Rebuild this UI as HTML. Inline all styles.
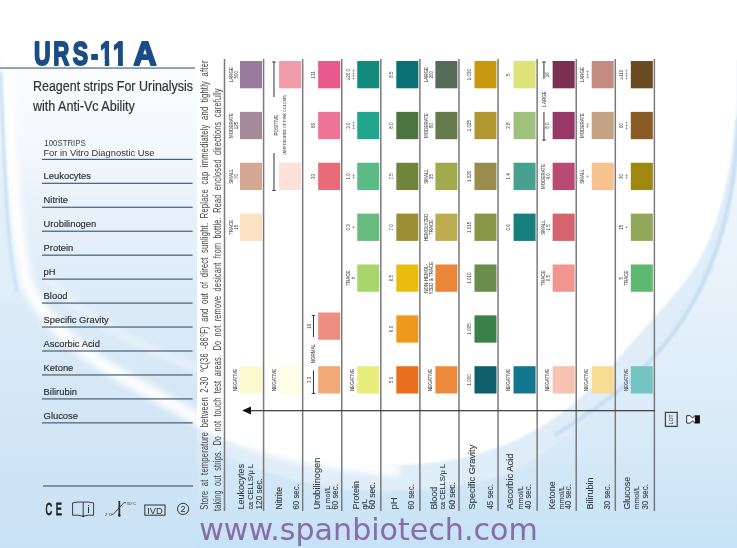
<!DOCTYPE html><html><head><meta charset="utf-8"><title>URS-11 A</title><style>
html,body{margin:0;padding:0;background:#fff;}svg{display:block;}
text{font-family:"Liberation Sans",Arial,sans-serif;}
.www{font-family:"DejaVu Sans",sans-serif;}
</style></head><body>
<svg width="737" height="548" viewBox="0 0 737 548">
<defs>
<filter id="b3" x="-20%" y="-20%" width="140%" height="140%"><feGaussianBlur stdDeviation="3"/></filter>
<filter id="b6" x="-20%" y="-20%" width="140%" height="140%"><feGaussianBlur stdDeviation="6"/></filter>
<filter id="b1" x="-20%" y="-20%" width="140%" height="140%"><feGaussianBlur stdDeviation="1.2"/></filter>
<linearGradient id="lp" x1="0" y1="0" x2="0.3" y2="1"><stop offset="0" stop-color="#e6f0f9"/><stop offset="1" stop-color="#c9e1f3"/></linearGradient>
<linearGradient id="bb" x1="0" y1="0" x2="0" y2="1"><stop offset="0" stop-color="#f3f8fd"/><stop offset="0.3" stop-color="#eff6fc"/><stop offset="0.55" stop-color="#e6f1fa"/><stop offset="0.8" stop-color="#d8eaf7"/><stop offset="1" stop-color="#c6e2f6"/></linearGradient>
<linearGradient id="lpt" x1="0" y1="0" x2="0" y2="1"><stop offset="0" stop-color="#e6f0f9" stop-opacity="0"/><stop offset="0.3" stop-color="#e6f0f9" stop-opacity="0.65"/><stop offset="1" stop-color="#e0edf8" stop-opacity="0.3"/></linearGradient>
<linearGradient id="lpg" x1="0" y1="0" x2="0" y2="1"><stop offset="0" stop-color="#fbfdfe"/><stop offset="0.169" stop-color="#f3f8fc"/><stop offset="0.273" stop-color="#e9f2fa"/><stop offset="0.482" stop-color="#dcebf7"/><stop offset="0.691" stop-color="#d4e7f6"/><stop offset="1" stop-color="#c9e2f5"/></linearGradient>
</defs>
<rect width="737" height="548" fill="url(#bb)"/>
<path d="M0,0 H737 V120 C734,250 690,340 600,405 C575,428 545,458 505,475 C470,486 420,492 370,491 C310,489 250,470 200,443 C150,415 100,378 60,338 C35,310 18,285 10,230 C5,180 2,130 0,90 Z" fill="#dfedf8" filter="url(#b1)"/>
<path d="M0,0 H737 V100 C733,170 718,235 692,272 C672,300 642,330 618,359 C598,382 570,410 539,428 C512,444 478,457 430,463 C380,468 320,463 270,452 C220,440 180,420 140,392 C100,365 60,330 30,285 C18,260 12,220 8,170 C5,130 2,100 0,70 Z" fill="#ffffff" filter="url(#b1)"/>
<rect x="0" y="0" width="737" height="60" fill="#fff"/>
<rect x="0" y="69" width="197" height="479" fill="url(#lpg)"/>
<path d="M0,69 L3,69 C6,150 10,220 18,262 C24,290 14,300 0,300 Z" fill="#e0eef9" filter="url(#b3)"/>
<path d="M7,72 C10,160 15,235 27,284 C44,322 80,352 122,376 C160,398 195,418 235,437 C285,456 335,466 400,470" fill="none" stroke="#ffffff" stroke-width="13" opacity="0.9" filter="url(#b3)"/>
<path d="M45,275 C80,318 130,342 197,368 C215,375 225,380 235,385" fill="none" stroke="#ffffff" stroke-width="7" opacity="0.45" filter="url(#b3)"/>
<path d="M0.5,72 C3,140 5.5,195 8.5,230 C10.5,255 13,272 17,292" fill="none" stroke="#cbe2f4" stroke-width="3.5" filter="url(#b1)"/>
<path d="M738.5,118 C734,250 690,340 600,405 C585,416 570,426 555,435" fill="none" stroke="#c4def2" stroke-width="4" filter="url(#b1)"/>
<defs><clipPath id="c1" clipPathUnits="userSpaceOnUse"><path d="M6.8,2 H13.1 V-25 H0.5 V-5.6 H6.8 Z"/></clipPath></defs>
<g fill="#1b4d85" stroke="#1b4d85" stroke-width="2.0" stroke-linejoin="round" font-weight="bold" font-size="32.8">
<text transform="translate(34.12,64.5) scale(0.700,1)">U</text>
<text transform="translate(53.19,64.5) scale(0.679,1)">R</text>
<text transform="translate(72.84,64.5) scale(0.702,1)">S</text>
<text transform="translate(91.11,65.9) scale(0.658,1)">-</text>
<text transform="translate(100.02,64.5) scale(0.705,1)" clip-path="url(#c1)">1</text>
<text transform="translate(112.96,64.5) scale(0.755,1)" clip-path="url(#c1)">1</text>
<text transform="translate(133.58,64.5) scale(0.971,1)">A</text>
</g>
<rect x="0" y="67.4" width="195" height="1.3" fill="#55728c"/>
<text x="33" y="91" font-size="14" fill="#333" stroke="#333" stroke-width="0.2" textLength="160" lengthAdjust="spacingAndGlyphs">Reagent strips For Urinalysis</text>
<text x="33" y="111.4" font-size="14" fill="#333" stroke="#333" stroke-width="0.2" textLength="101.8" lengthAdjust="spacingAndGlyphs">with Anti-Vc Ability</text>
<text x="44.3" y="146.1" font-size="9.6" fill="#444" textLength="41.5" lengthAdjust="spacingAndGlyphs">100STRIPS</text>
<text x="43.4" y="155.8" font-size="9.6" fill="#333" textLength="111" lengthAdjust="spacingAndGlyphs">For in Vitro Diagnostic Use</text>
<rect x="42" y="158.8" width="150.6" height="1.2" fill="#4d5e6e"/>
<text x="43.6" y="179.2" font-size="9.4" fill="#2c3036" stroke="#2c3036" stroke-width="0.15">Leukocytes</text>
<rect x="42" y="182.70" width="150.6" height="1.3" fill="#56677a"/>
<text x="43.6" y="203.2" font-size="9.4" fill="#2c3036" stroke="#2c3036" stroke-width="0.15">Nitrite</text>
<rect x="42" y="206.65" width="150.6" height="1.3" fill="#56677a"/>
<text x="43.6" y="227.2" font-size="9.4" fill="#2c3036" stroke="#2c3036" stroke-width="0.15">Urobilinogen</text>
<rect x="42" y="230.60" width="150.6" height="1.3" fill="#56677a"/>
<text x="43.6" y="251.1" font-size="9.4" fill="#2c3036" stroke="#2c3036" stroke-width="0.15">Protein</text>
<rect x="42" y="254.55" width="150.6" height="1.3" fill="#56677a"/>
<text x="43.6" y="275.0" font-size="9.4" fill="#2c3036" stroke="#2c3036" stroke-width="0.15">pH</text>
<rect x="42" y="278.50" width="150.6" height="1.3" fill="#56677a"/>
<text x="43.6" y="299.0" font-size="9.4" fill="#2c3036" stroke="#2c3036" stroke-width="0.15">Blood</text>
<rect x="42" y="302.45" width="150.6" height="1.3" fill="#56677a"/>
<text x="43.6" y="322.9" font-size="9.4" fill="#2c3036" stroke="#2c3036" stroke-width="0.15">Specific Gravity</text>
<rect x="42" y="326.40" width="150.6" height="1.3" fill="#56677a"/>
<text x="43.6" y="346.9" font-size="9.4" fill="#2c3036" stroke="#2c3036" stroke-width="0.15">Ascorbic Acid</text>
<rect x="42" y="350.35" width="150.6" height="1.3" fill="#56677a"/>
<text x="43.6" y="370.8" font-size="9.4" fill="#2c3036" stroke="#2c3036" stroke-width="0.15">Ketone</text>
<rect x="42" y="374.30" width="150.6" height="1.3" fill="#56677a"/>
<text x="43.6" y="394.8" font-size="9.4" fill="#2c3036" stroke="#2c3036" stroke-width="0.15">Bilirubin</text>
<rect x="42" y="398.25" width="150.6" height="1.3" fill="#56677a"/>
<text x="43.6" y="418.8" font-size="9.4" fill="#2c3036" stroke="#2c3036" stroke-width="0.15">Glucose</text>
<rect x="42" y="422.20" width="150.6" height="1.3" fill="#56677a"/>
<rect x="43" y="485.4" width="150" height="1.2" fill="#4d5e6e"/>
<text transform="translate(207.8,509.8) rotate(-90)" font-size="10.5" fill="#464646" word-spacing="3" letter-spacing="0.3" textLength="449.6" lengthAdjust="spacingAndGlyphs">Store at temperature between 2-30 ℃(36 -86°F) and out of direct sunlight. Replace cap immediately and tightly after</text>
<text transform="translate(220.6,511) rotate(-90)" font-size="10.5" fill="#464646" word-spacing="3" letter-spacing="0.3" textLength="422.7" lengthAdjust="spacingAndGlyphs">taking out strips. Do not touch test areas. Do not remove desicant from bottle. Read enclosed directions carefully</text>
<rect x="223.75" y="59" width="1.5" height="452" fill="#7a7a7a"/>
<rect x="262.83" y="59" width="1.5" height="452" fill="#7a7a7a"/>
<rect x="301.91" y="59" width="1.5" height="452" fill="#7a7a7a"/>
<rect x="340.99" y="59" width="1.5" height="452" fill="#7a7a7a"/>
<rect x="380.07" y="59" width="1.5" height="452" fill="#7a7a7a"/>
<rect x="419.15" y="59" width="1.5" height="452" fill="#7a7a7a"/>
<rect x="458.23" y="59" width="1.5" height="452" fill="#7a7a7a"/>
<rect x="497.31" y="59" width="1.5" height="452" fill="#7a7a7a"/>
<rect x="536.39" y="59" width="1.5" height="452" fill="#7a7a7a"/>
<rect x="575.47" y="59" width="1.5" height="452" fill="#7a7a7a"/>
<rect x="614.55" y="59" width="1.5" height="452" fill="#7a7a7a"/>
<rect x="653.63" y="59" width="1.5" height="452" fill="#7a7a7a"/>
<rect x="244" y="410" width="411" height="1.3" fill="#444"/>
<path d="M242.2,410.6 L251,406.6 L251,414.6 Z" fill="#111"/>
<rect x="240.00" y="61.0" width="22" height="27.3" fill="#9a7a9d"/>
<text transform="translate(232.60,74.65) rotate(-90)" font-size="4.5" fill="#333" text-anchor="middle">LARGE</text>
<text transform="translate(237.50,74.65) rotate(-90)" font-size="4.5" fill="#333" text-anchor="middle">500</text>
<rect x="240.00" y="111.87" width="22" height="27.3" fill="#a68a9a"/>
<text transform="translate(232.60,125.52) rotate(-90)" font-size="4.5" fill="#333" text-anchor="middle">MODERATE</text>
<text transform="translate(237.50,125.52) rotate(-90)" font-size="4.5" fill="#333" text-anchor="middle">125</text>
<rect x="240.00" y="162.74" width="22" height="27.3" fill="#d5a894"/>
<text transform="translate(232.60,176.39) rotate(-90)" font-size="4.5" fill="#333" text-anchor="middle">SMALL</text>
<text transform="translate(237.50,176.39) rotate(-90)" font-size="4.5" fill="#333" text-anchor="middle">70</text>
<rect x="240.00" y="213.61" width="22" height="27.3" fill="#fce1c3"/>
<text transform="translate(232.60,227.26) rotate(-90)" font-size="4.5" fill="#333" text-anchor="middle">TRACE</text>
<text transform="translate(237.50,227.26) rotate(-90)" font-size="4.5" fill="#333" text-anchor="middle">15</text>
<rect x="240.00" y="366.22" width="22" height="27.3" fill="#fdf9cf"/>
<text transform="translate(236.70,379.87) rotate(-90)" font-size="4.5" fill="#333" text-anchor="middle">NEGATIVE</text>
<rect x="279.08" y="61.0" width="22" height="27.3" fill="#f29bab"/>
<rect x="279.08" y="162.74" width="22" height="27.3" fill="#fbe1d8"/>
<rect x="279.08" y="366.22" width="22" height="27.3" fill="#fefde6"/>
<text transform="translate(275.78,379.87) rotate(-90)" font-size="4.5" fill="#333" text-anchor="middle">NEGATIVE</text>
<rect x="318.16" y="61.0" width="22" height="27.3" fill="#e65b8b"/>
<text transform="translate(314.86,74.65) rotate(-90)" font-size="4.5" fill="#333" text-anchor="middle">131</text>
<rect x="318.16" y="111.87" width="22" height="27.3" fill="#ec7596"/>
<text transform="translate(314.86,125.52) rotate(-90)" font-size="4.5" fill="#333" text-anchor="middle">66</text>
<rect x="318.16" y="162.74" width="22" height="27.3" fill="#e96b78"/>
<text transform="translate(314.86,176.39) rotate(-90)" font-size="4.5" fill="#333" text-anchor="middle">33</text>
<rect x="318.16" y="312.5" width="22" height="27.3" fill="#ee8e80"/>
<text transform="translate(311.06,326.15) rotate(-90)" font-size="4.5" fill="#333" text-anchor="middle">16</text>
<rect x="318.16" y="366.22" width="22" height="27.3" fill="#f2a97a"/>
<text transform="translate(311.06,379.87) rotate(-90)" font-size="4.5" fill="#333" text-anchor="middle">3.3</text>
<rect x="357.24" y="61.0" width="22" height="27.3" fill="#138a7c"/>
<text transform="translate(349.84,74.65) rotate(-90)" font-size="4.5" fill="#333" text-anchor="middle">≥20.0</text>
<text transform="translate(354.74,74.65) rotate(-90)" font-size="4.5" fill="#333" text-anchor="middle">++++</text>
<rect x="357.24" y="111.87" width="22" height="27.3" fill="#1fa68c"/>
<text transform="translate(349.84,125.52) rotate(-90)" font-size="4.5" fill="#333" text-anchor="middle">3.0</text>
<text transform="translate(354.74,125.52) rotate(-90)" font-size="4.5" fill="#333" text-anchor="middle">+++</text>
<rect x="357.24" y="162.74" width="22" height="27.3" fill="#5bbb84"/>
<text transform="translate(349.84,176.39) rotate(-90)" font-size="4.5" fill="#333" text-anchor="middle">1.0</text>
<text transform="translate(354.74,176.39) rotate(-90)" font-size="4.5" fill="#333" text-anchor="middle">++</text>
<rect x="357.24" y="213.61" width="22" height="27.3" fill="#68bb7e"/>
<text transform="translate(349.84,227.26) rotate(-90)" font-size="4.5" fill="#333" text-anchor="middle">0.3</text>
<text transform="translate(354.74,227.26) rotate(-90)" font-size="4.5" fill="#333" text-anchor="middle">+</text>
<rect x="357.24" y="264.48" width="22" height="27.3" fill="#a9d66c"/>
<text transform="translate(349.84,278.13) rotate(-90)" font-size="4.5" fill="#333" text-anchor="middle">TRACE</text>
<text transform="translate(354.74,278.13) rotate(-90)" font-size="4.5" fill="#333" text-anchor="middle">±</text>
<rect x="357.24" y="366.22" width="22" height="27.3" fill="#e7ee7c"/>
<text transform="translate(353.94,379.87) rotate(-90)" font-size="4.5" fill="#333" text-anchor="middle">NEGATIVE</text>
<rect x="396.32" y="61.0" width="22" height="27.3" fill="#0b6f74"/>
<text transform="translate(393.02,74.65) rotate(-90)" font-size="4.5" fill="#333" text-anchor="middle">8.5</text>
<rect x="396.32" y="111.87" width="22" height="27.3" fill="#4b743e"/>
<text transform="translate(393.02,125.52) rotate(-90)" font-size="4.5" fill="#333" text-anchor="middle">8.0</text>
<rect x="396.32" y="162.74" width="22" height="27.3" fill="#6f863a"/>
<text transform="translate(393.02,176.39) rotate(-90)" font-size="4.5" fill="#333" text-anchor="middle">7.5</text>
<rect x="396.32" y="213.61" width="22" height="27.3" fill="#9a8f35"/>
<text transform="translate(393.02,227.26) rotate(-90)" font-size="4.5" fill="#333" text-anchor="middle">7.0</text>
<rect x="396.32" y="264.48" width="22" height="27.3" fill="#e9bd10"/>
<text transform="translate(393.02,278.13) rotate(-90)" font-size="4.5" fill="#333" text-anchor="middle">6.5</text>
<rect x="396.32" y="315.35" width="22" height="27.3" fill="#ee981c"/>
<text transform="translate(393.02,329.00) rotate(-90)" font-size="4.5" fill="#333" text-anchor="middle">6.0</text>
<rect x="396.32" y="366.22" width="22" height="27.3" fill="#e8701c"/>
<text transform="translate(393.02,379.87) rotate(-90)" font-size="4.5" fill="#333" text-anchor="middle">5.0</text>
<rect x="435.40" y="61.0" width="22" height="27.3" fill="#566a58"/>
<text transform="translate(428.00,74.65) rotate(-90)" font-size="4.5" fill="#333" text-anchor="middle">LARGE</text>
<text transform="translate(432.90,74.65) rotate(-90)" font-size="4.5" fill="#333" text-anchor="middle">200</text>
<rect x="435.40" y="111.87" width="22" height="27.3" fill="#647a4a"/>
<text transform="translate(428.00,125.52) rotate(-90)" font-size="4.5" fill="#333" text-anchor="middle">MODERATE</text>
<text transform="translate(432.90,125.52) rotate(-90)" font-size="4.5" fill="#333" text-anchor="middle">80</text>
<rect x="435.40" y="162.74" width="22" height="27.3" fill="#a2aa4e"/>
<text transform="translate(428.00,176.39) rotate(-90)" font-size="4.5" fill="#333" text-anchor="middle">SMALL</text>
<text transform="translate(432.90,176.39) rotate(-90)" font-size="4.5" fill="#333" text-anchor="middle">25</text>
<rect x="435.40" y="213.61" width="22" height="27.3" fill="#bcac52"/>
<text transform="translate(428.00,227.26) rotate(-90)" font-size="4.5" fill="#333" text-anchor="middle">HEMOLYZED</text>
<text transform="translate(432.90,227.26) rotate(-90)" font-size="4.5" fill="#333" text-anchor="middle">TRACE</text>
<rect x="435.40" y="264.48" width="22" height="27.3" fill="#ea8638"/>
<text transform="translate(428.00,278.13) rotate(-90)" font-size="4.5" fill="#333" text-anchor="middle">NON-HEMOL-</text>
<text transform="translate(432.90,278.13) rotate(-90)" font-size="4.5" fill="#333" text-anchor="middle">YZED &amp; TRACE</text>
<rect x="435.40" y="366.22" width="22" height="27.3" fill="#ee8a3c"/>
<text transform="translate(432.10,379.87) rotate(-90)" font-size="4.5" fill="#333" text-anchor="middle">NEGATIVE</text>
<rect x="474.48" y="61.0" width="22" height="27.3" fill="#c89810"/>
<text transform="translate(471.18,74.65) rotate(-90)" font-size="4.5" fill="#333" text-anchor="middle">1.030</text>
<rect x="474.48" y="111.87" width="22" height="27.3" fill="#b19730"/>
<text transform="translate(471.18,125.52) rotate(-90)" font-size="4.5" fill="#333" text-anchor="middle">1.025</text>
<rect x="474.48" y="162.74" width="22" height="27.3" fill="#9a8c4c"/>
<text transform="translate(471.18,176.39) rotate(-90)" font-size="4.5" fill="#333" text-anchor="middle">1.020</text>
<rect x="474.48" y="213.61" width="22" height="27.3" fill="#88964a"/>
<text transform="translate(471.18,227.26) rotate(-90)" font-size="4.5" fill="#333" text-anchor="middle">1.015</text>
<rect x="474.48" y="264.48" width="22" height="27.3" fill="#6a8c4c"/>
<text transform="translate(471.18,278.13) rotate(-90)" font-size="4.5" fill="#333" text-anchor="middle">1.010</text>
<rect x="474.48" y="315.35" width="22" height="27.3" fill="#3b8048"/>
<text transform="translate(471.18,329.00) rotate(-90)" font-size="4.5" fill="#333" text-anchor="middle">1.005</text>
<rect x="474.48" y="366.22" width="22" height="27.3" fill="#0f5f6c"/>
<text transform="translate(471.18,379.87) rotate(-90)" font-size="4.5" fill="#333" text-anchor="middle">1.000</text>
<rect x="513.56" y="61.0" width="22" height="27.3" fill="#dde27a"/>
<text transform="translate(510.26,74.65) rotate(-90)" font-size="4.5" fill="#333" text-anchor="middle">5</text>
<rect x="513.56" y="111.87" width="22" height="27.3" fill="#9fc17e"/>
<text transform="translate(510.26,125.52) rotate(-90)" font-size="4.5" fill="#333" text-anchor="middle">2.8</text>
<rect x="513.56" y="162.74" width="22" height="27.3" fill="#4aa08e"/>
<text transform="translate(510.26,176.39) rotate(-90)" font-size="4.5" fill="#333" text-anchor="middle">1.4</text>
<rect x="513.56" y="213.61" width="22" height="27.3" fill="#167e7c"/>
<text transform="translate(510.26,227.26) rotate(-90)" font-size="4.5" fill="#333" text-anchor="middle">0.6</text>
<rect x="513.56" y="366.22" width="22" height="27.3" fill="#12778e"/>
<text transform="translate(510.26,379.87) rotate(-90)" font-size="4.5" fill="#333" text-anchor="middle">NEGATIVE</text>
<rect x="552.64" y="61.0" width="22" height="27.3" fill="#7b3052"/>
<text transform="translate(549.44,74.65) rotate(-90)" font-size="4.5" fill="#333" text-anchor="middle">16</text>
<rect x="552.64" y="111.87" width="22" height="27.3" fill="#983868"/>
<text transform="translate(549.44,125.52) rotate(-90)" font-size="4.5" fill="#333" text-anchor="middle">8.0</text>
<rect x="552.64" y="162.74" width="22" height="27.3" fill="#b94b72"/>
<text transform="translate(545.24,176.39) rotate(-90)" font-size="4.5" fill="#333" text-anchor="middle">MODERATE</text>
<text transform="translate(550.14,176.39) rotate(-90)" font-size="4.5" fill="#333" text-anchor="middle">4.0</text>
<rect x="552.64" y="213.61" width="22" height="27.3" fill="#d6646f"/>
<text transform="translate(545.24,227.26) rotate(-90)" font-size="4.5" fill="#333" text-anchor="middle">SMALL</text>
<text transform="translate(550.14,227.26) rotate(-90)" font-size="4.5" fill="#333" text-anchor="middle">1.5</text>
<rect x="552.64" y="264.48" width="22" height="27.3" fill="#f0968e"/>
<text transform="translate(545.24,278.13) rotate(-90)" font-size="4.5" fill="#333" text-anchor="middle">TRACE</text>
<text transform="translate(550.14,278.13) rotate(-90)" font-size="4.5" fill="#333" text-anchor="middle">0.5</text>
<rect x="552.64" y="366.22" width="22" height="27.3" fill="#f8c2b2"/>
<text transform="translate(549.34,379.87) rotate(-90)" font-size="4.5" fill="#333" text-anchor="middle">NEGATIVE</text>
<rect x="591.72" y="61.0" width="22" height="27.3" fill="#c28d80"/>
<text transform="translate(584.32,74.65) rotate(-90)" font-size="4.5" fill="#333" text-anchor="middle">LARGE</text>
<text transform="translate(589.22,74.65) rotate(-90)" font-size="4.5" fill="#333" text-anchor="middle">+++</text>
<rect x="591.72" y="111.87" width="22" height="27.3" fill="#c2a282"/>
<text transform="translate(584.32,125.52) rotate(-90)" font-size="4.5" fill="#333" text-anchor="middle">MODERATE</text>
<text transform="translate(589.22,125.52) rotate(-90)" font-size="4.5" fill="#333" text-anchor="middle">++</text>
<rect x="591.72" y="162.74" width="22" height="27.3" fill="#f8c190"/>
<text transform="translate(584.32,176.39) rotate(-90)" font-size="4.5" fill="#333" text-anchor="middle">SMALL</text>
<text transform="translate(589.22,176.39) rotate(-90)" font-size="4.5" fill="#333" text-anchor="middle">+</text>
<rect x="591.72" y="366.22" width="22" height="27.3" fill="#f8dc94"/>
<text transform="translate(588.42,379.87) rotate(-90)" font-size="4.5" fill="#333" text-anchor="middle">NEGATIVE</text>
<rect x="630.80" y="61.0" width="22" height="27.3" fill="#6c4a22"/>
<text transform="translate(623.40,74.65) rotate(-90)" font-size="4.5" fill="#333" text-anchor="middle">≥110</text>
<text transform="translate(628.30,74.65) rotate(-90)" font-size="4.5" fill="#333" text-anchor="middle">++++</text>
<rect x="630.80" y="111.87" width="22" height="27.3" fill="#8a5a24"/>
<text transform="translate(623.40,125.52) rotate(-90)" font-size="4.5" fill="#333" text-anchor="middle">60</text>
<text transform="translate(628.30,125.52) rotate(-90)" font-size="4.5" fill="#333" text-anchor="middle">+++</text>
<rect x="630.80" y="162.74" width="22" height="27.3" fill="#9e8812"/>
<text transform="translate(623.40,176.39) rotate(-90)" font-size="4.5" fill="#333" text-anchor="middle">30</text>
<text transform="translate(628.30,176.39) rotate(-90)" font-size="4.5" fill="#333" text-anchor="middle">++</text>
<rect x="630.80" y="213.61" width="22" height="27.3" fill="#91a85a"/>
<text transform="translate(623.40,227.26) rotate(-90)" font-size="4.5" fill="#333" text-anchor="middle">15</text>
<text transform="translate(628.30,227.26) rotate(-90)" font-size="4.5" fill="#333" text-anchor="middle">+</text>
<rect x="630.80" y="264.48" width="22" height="27.3" fill="#5fb870"/>
<text transform="translate(623.40,278.13) rotate(-90)" font-size="4.5" fill="#333" text-anchor="middle">5</text>
<text transform="translate(628.30,278.13) rotate(-90)" font-size="4.5" fill="#333" text-anchor="middle">TRACE</text>
<rect x="630.80" y="366.22" width="22" height="27.3" fill="#76c4c2"/>
<text transform="translate(627.50,379.87) rotate(-90)" font-size="4.5" fill="#333" text-anchor="middle">NEGATIVE</text>
<rect x="273.48" y="61.6" width="1" height="35.4" fill="#333"/>
<rect x="272.18" y="61.6" width="3.6" height="0.9" fill="#333"/>
<rect x="273.48" y="153" width="1" height="38" fill="#333"/>
<rect x="272.18" y="190.1" width="3.6" height="0.9" fill="#333"/>
<text transform="translate(277.58,125.2) rotate(-90)" font-size="4.5" fill="#333" text-anchor="middle">POSITIVE</text>
<text transform="translate(286.08,124.7) rotate(-90)" font-size="4.3" fill="#333" text-anchor="middle" textLength="60" lengthAdjust="spacingAndGlyphs">(ANY DEGREE OF PINK COLOUR)</text>
<rect x="312.96" y="315" width="1" height="22" fill="#333"/>
<rect x="311.66" y="315" width="3.6" height="0.9" fill="#333"/>
<rect x="312.96" y="370.5" width="1" height="23.5" fill="#333"/>
<rect x="311.66" y="393.1" width="3.6" height="0.9" fill="#333"/>
<text transform="translate(315.06,353.5) rotate(-90)" font-size="4.5" fill="#333" text-anchor="middle">NORMAL</text>
<rect x="543.44" y="61.6" width="1" height="17.4" fill="#333"/>
<rect x="542.14" y="61.6" width="3.6" height="0.9" fill="#333"/>
<rect x="543.44" y="112" width="1" height="28.5" fill="#333"/>
<rect x="542.14" y="139.6" width="3.6" height="0.9" fill="#333"/>
<text transform="translate(545.54,99) rotate(-90)" font-size="4.5" fill="#333" text-anchor="middle">LARGE</text>
<text transform="translate(243.70,509.6) rotate(-90)" font-size="9.6" fill="#363a40" stroke="#363a40" stroke-width="0.1" textLength="45.6" lengthAdjust="spacingAndGlyphs">Leukocytes</text>
<text transform="translate(253.10,509.6) rotate(-90)" font-size="7.2" fill="#363a40" stroke="#363a40" stroke-width="0.1" textLength="45.6" lengthAdjust="spacingAndGlyphs">ca CELLS/μ L</text>
<text transform="translate(261.50,509.6) rotate(-90)" font-size="8.2" fill="#363a40" stroke="#363a40" stroke-width="0.1" textLength="31.5" lengthAdjust="spacingAndGlyphs">120 sec.</text>
<text transform="translate(281.58,509.6) rotate(-90)" font-size="9.6" fill="#363a40" stroke="#363a40" stroke-width="0.1" textLength="22.6" lengthAdjust="spacingAndGlyphs">Nitrite</text>
<text transform="translate(298.58,509.6) rotate(-90)" font-size="8.2" fill="#363a40" stroke="#363a40" stroke-width="0.1" textLength="25.5" lengthAdjust="spacingAndGlyphs">60 sec.</text>
<text transform="translate(320.16,509.6) rotate(-90)" font-size="9.6" fill="#363a40" stroke="#363a40" stroke-width="0.1" textLength="52" lengthAdjust="spacingAndGlyphs">Urobilinogen</text>
<text transform="translate(329.96,509.6) rotate(-90)" font-size="7.2" fill="#363a40" stroke="#363a40" stroke-width="0.1">μ mol/L</text>
<text transform="translate(338.26,509.6) rotate(-90)" font-size="8.2" fill="#363a40" stroke="#363a40" stroke-width="0.1" textLength="25.5" lengthAdjust="spacingAndGlyphs">60 sec.</text>
<text transform="translate(359.24,509.6) rotate(-90)" font-size="9.6" fill="#363a40" stroke="#363a40" stroke-width="0.1" textLength="28.5" lengthAdjust="spacingAndGlyphs">Protein</text>
<text transform="translate(366.74,509.6) rotate(-90)" font-size="7.5" fill="#363a40" stroke="#363a40" stroke-width="0.1">g/L</text>
<text transform="translate(374.74,509.6) rotate(-90)" font-size="8.2" fill="#363a40" stroke="#363a40" stroke-width="0.1" textLength="27.5" lengthAdjust="spacingAndGlyphs">60 sec.</text>
<text transform="translate(396.52,509.6) rotate(-90)" font-size="9.6" fill="#363a40" stroke="#363a40" stroke-width="0.1">pH</text>
<text transform="translate(413.52,509.6) rotate(-90)" font-size="8.2" fill="#363a40" stroke="#363a40" stroke-width="0.1" textLength="25.5" lengthAdjust="spacingAndGlyphs">60 sec.</text>
<text transform="translate(436.90,509.6) rotate(-90)" font-size="9.6" fill="#363a40" stroke="#363a40" stroke-width="0.1" textLength="22.8" lengthAdjust="spacingAndGlyphs">Blood</text>
<text transform="translate(444.90,509.6) rotate(-90)" font-size="7.2" fill="#363a40" stroke="#363a40" stroke-width="0.1" textLength="45.6" lengthAdjust="spacingAndGlyphs">ca CELLS/μ L</text>
<text transform="translate(454.50,509.6) rotate(-90)" font-size="8.2" fill="#363a40" stroke="#363a40" stroke-width="0.1" textLength="27.5" lengthAdjust="spacingAndGlyphs">60 sec.</text>
<text transform="translate(474.98,509.6) rotate(-90)" font-size="9.6" fill="#363a40" stroke="#363a40" stroke-width="0.1" textLength="65" lengthAdjust="spacingAndGlyphs">Specific Gravity</text>
<text transform="translate(492.98,509.6) rotate(-90)" font-size="8.2" fill="#363a40" stroke="#363a40" stroke-width="0.1" textLength="25.5" lengthAdjust="spacingAndGlyphs">45 sec.</text>
<text transform="translate(513.06,509.6) rotate(-90)" font-size="9.6" fill="#363a40" stroke="#363a40" stroke-width="0.1" textLength="56" lengthAdjust="spacingAndGlyphs">Ascorbic Acid</text>
<text transform="translate(522.76,509.6) rotate(-90)" font-size="7.2" fill="#363a40" stroke="#363a40" stroke-width="0.1">mmol/L</text>
<text transform="translate(531.46,509.6) rotate(-90)" font-size="8.2" fill="#363a40" stroke="#363a40" stroke-width="0.1" textLength="25.5" lengthAdjust="spacingAndGlyphs">40 sec.</text>
<text transform="translate(554.84,509.6) rotate(-90)" font-size="9.6" fill="#363a40" stroke="#363a40" stroke-width="0.1" textLength="28.3" lengthAdjust="spacingAndGlyphs">Ketone</text>
<text transform="translate(563.54,509.6) rotate(-90)" font-size="7.2" fill="#363a40" stroke="#363a40" stroke-width="0.1">mmol/L</text>
<text transform="translate(571.34,509.6) rotate(-90)" font-size="8.2" fill="#363a40" stroke="#363a40" stroke-width="0.1" textLength="25.5" lengthAdjust="spacingAndGlyphs">40 sec.</text>
<text transform="translate(592.92,509.6) rotate(-90)" font-size="9.6" fill="#363a40" stroke="#363a40" stroke-width="0.1" textLength="32" lengthAdjust="spacingAndGlyphs">Bilirubin</text>
<text transform="translate(610.22,509.6) rotate(-90)" font-size="8.2" fill="#363a40" stroke="#363a40" stroke-width="0.1" textLength="25.5" lengthAdjust="spacingAndGlyphs">30 sec.</text>
<text transform="translate(630.30,509.6) rotate(-90)" font-size="9.6" fill="#363a40" stroke="#363a40" stroke-width="0.1" textLength="32.7" lengthAdjust="spacingAndGlyphs">Glucose</text>
<text transform="translate(638.90,509.6) rotate(-90)" font-size="7.2" fill="#363a40" stroke="#363a40" stroke-width="0.1">mmol/L</text>
<text transform="translate(647.50,509.6) rotate(-90)" font-size="8.2" fill="#363a40" stroke="#363a40" stroke-width="0.1" textLength="25.5" lengthAdjust="spacingAndGlyphs">30 sec.</text>
<rect x="665.4" y="412.4" width="11.8" height="14" fill="none" stroke="#444" stroke-width="1.25"/>
<text transform="translate(673.3,419.4) rotate(-90)" font-size="5.2" fill="#333" text-anchor="middle">LOT</text>
<path d="M686.7,415.7 H690.3 L692.5,418.1 L694.7,415.7 H695.3 V423.1 H694.7 L692.5,420.7 L690.3,423.1 H686.7 Z" fill="#fff" stroke="#222" stroke-width="0.95"/>
<rect x="695.2" y="415.3" width="4.7" height="8.2" fill="#111"/>
<text transform="translate(45.6,514.9) scale(0.56,1)" x="0 18.3" font-size="16.4" fill="#222" stroke="#222" stroke-width="0.9">CE</text>
<path d="M72.6,502.9 Q78,501.6 83.2,502.1 Q88.5,501.6 93.6,502.9 V515.3 Q88.5,514.6 83.2,516.2 Q78,514.6 72.6,515.3 Z M83.2,502.1 V516.2" fill="none" stroke="#333" stroke-width="0.95"/>
<circle cx="83.2" cy="516.4" r="0.8" fill="#222"/>
<text x="87.2" y="513.4" font-size="11.5" fill="#333">i</text>
<path d="M119.3,501 V515" stroke="#333" stroke-width="1.8" fill="none"/>
<circle cx="119.3" cy="515.4" r="1.3" fill="#222"/>
<path d="M111.4,514.3 H113.3 L123.9,502.7 H126" stroke="#333" stroke-width="0.9" fill="none"/>
<text x="126.6" y="505" font-size="4.3" fill="#444">30°C</text>
<text x="104.8" y="516.3" font-size="4.3" fill="#444">2°C</text>
<rect x="144.8" y="505" width="20.2" height="10.2" fill="none" stroke="#333" stroke-width="1"/>
<text x="155" y="513.7" font-size="9" fill="#333" text-anchor="middle" textLength="15.5" lengthAdjust="spacingAndGlyphs">IVD</text>
<circle cx="183.1" cy="508.9" r="5.6" fill="none" stroke="#333" stroke-width="1"/>
<text x="183.1" y="512.2" font-size="9" fill="#333" text-anchor="middle">2</text>
<text class="www" x="199.2" y="539.5" font-size="29.8" fill="#876ca8" textLength="338.6" lengthAdjust="spacingAndGlyphs" style="font-family:'DejaVu Sans',sans-serif">www.spanbiotech.com</text>
</svg></body></html>
